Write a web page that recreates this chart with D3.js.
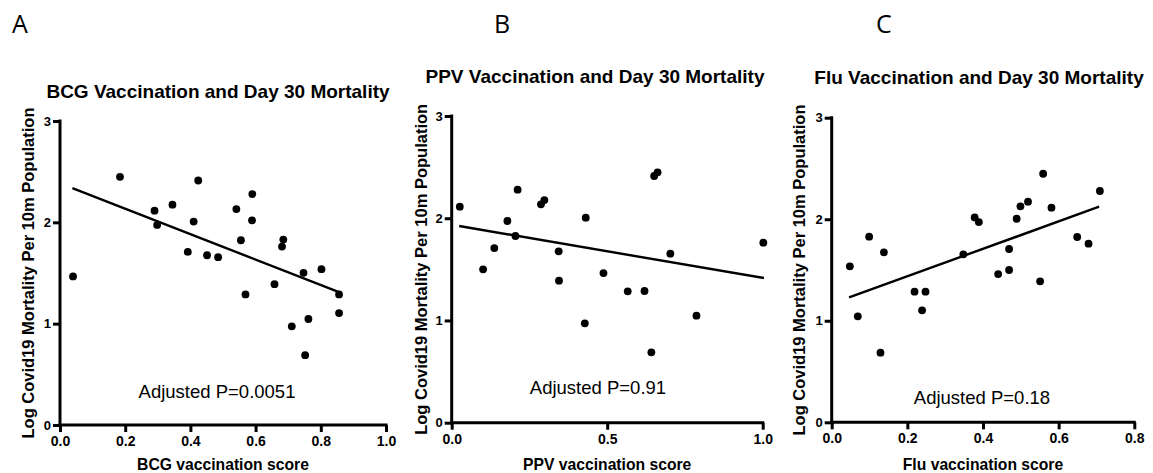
<!DOCTYPE html>
<html>
<head>
<meta charset="utf-8">
<script src="https://cdn.jsdelivr.net/npm/d3@7"></script>
<style>
  html, body { margin: 0; padding: 0; background: #fff; }
  svg { display: block; }
</style>
</head>
<body>
<svg id="chart" width="1153" height="473"></svg>
<script>
// ---- Data ----
const panelLetters = ["A", "B", "C"];
const panelTitles = [
  "BCG Vaccination and Day 30 Mortality",
  "PPV Vaccination and Day 30 Mortality",
  "Flu Vaccination and Day 30 Mortality"
];
const xAxisTitles = ["BCG vaccination score", "PPV vaccination score", "Flu vaccination score"];
const yAxisTitle = "Log Covid19 Mortality Per 10m Population";
const pValueTexts = ["Adjusted P=0.0051", "Adjusted P=0.91", "Adjusted P=0.18"];

const yTicks = [0, 1, 2, 3];
const xTicksA = [0.0, 0.2, 0.4, 0.6, 0.8, 1.0];
const xTicksB = [0.0, 0.5, 1.0];
const xTicksC = [0.0, 0.2, 0.4, 0.6, 0.8];

const bcgX = [0.040, 0.184, 0.290, 0.298, 0.345, 0.392, 0.410, 0.424, 0.451, 0.485, 0.541, 0.555, 0.569, 0.590, 0.589, 0.658, 0.685, 0.681, 0.711, 0.747, 0.752, 0.762, 0.802, 0.856, 0.856];
const bcgY = [1.466, 2.449, 2.115, 1.974, 2.174, 1.708, 2.007, 2.413, 1.675, 1.656, 2.131, 1.823, 1.289, 2.279, 2.020, 1.390, 1.830, 1.761, 0.974, 1.502, 0.689, 1.046, 1.538, 1.289, 1.105];
const bcgFitX = [0.038, 0.856];
const bcgFitY = [2.338, 1.311];

const ppvX = [0.026, 0.101, 0.137, 0.179, 0.205, 0.212, 0.287, 0.298, 0.344, 0.345, 0.428, 0.431, 0.488, 0.566, 0.620, 0.642, 0.651, 0.662, 0.703, 0.787, 1.002];
const ppvY = [2.113, 1.500, 1.708, 1.973, 1.826, 2.279, 2.136, 2.178, 1.676, 1.389, 0.972, 2.005, 1.464, 1.285, 1.288, 0.688, 2.413, 2.449, 1.653, 1.047, 1.761];
const ppvFitX = [0.024, 1.004];
const ppvFitY = [1.924, 1.415];

const fluX = [0.048, 0.069, 0.099, 0.129, 0.138, 0.219, 0.239, 0.248, 0.348, 0.378, 0.389, 0.440, 0.469, 0.469, 0.489, 0.499, 0.519, 0.551, 0.559, 0.581, 0.649, 0.679, 0.709];
const fluY = [1.536, 1.044, 1.828, 0.686, 1.674, 1.287, 1.103, 1.287, 1.654, 2.018, 1.972, 1.460, 1.707, 1.500, 2.005, 2.127, 2.173, 1.388, 2.448, 2.114, 1.825, 1.759, 2.278];
const fluFitX = [0.046, 0.707];
const fluFitY = [1.231, 2.123];

// ---- Layout ----
const panels = [
  { xs: bcgX, ys: bcgY, fx: bcgFitX, fy: bcgFitY, xTicks: xTicksA, xDomain: [0, 1.0], fmt: d3.format(".1f"),
    px: [60, 386], py: [425, 121], letterX: 12, titleX: 218, titleY: 98, pX: 217, pY: 398, xLabY: 470, yLabX: 28 },
  { xs: ppvX, ys: ppvY, fx: ppvFitX, fy: ppvFitY, xTicks: xTicksB, xDomain: [0, 1.0], fmt: d3.format(".1f"),
    px: [451.7, 762.7], py: [422.7, 116], letterX: 494, titleX: 595, titleY: 83, pX: 598, pY: 394, xLabY: 470, yLabX: 421 },
  { xs: fluX, ys: fluY, fx: fluFitX, fy: fluFitY, xTicks: xTicksC, xDomain: [0, 0.8], fmt: d3.format(".1f"),
    px: [831.7, 1134.3], py: [422.3, 117.7], letterX: 876, titleX: 979, titleY: 84, pX: 982, pY: 404, xLabY: 470, yLabX: 799 }
];

const svg = d3.select("#chart");
const FONT = "'Liberation Sans', Arial, sans-serif";

panels.forEach((p, i) => {
  const x = d3.scaleLinear().domain(p.xDomain).range(p.px);
  const y = d3.scaleLinear().domain([0, 3]).range(p.py);
  const g = svg.append("g");

  // panel letter
  svg.append("text").attr("x", p.letterX).attr("y", 33)
    .attr("font-family", "'Open Sans', 'Noto Sans', sans-serif").attr("font-size", 25)
    .attr("fill", "#000").text(panelLetters[i]);

  // title
  g.append("text").attr("x", p.titleX).attr("y", p.titleY).attr("text-anchor", "middle")
    .attr("font-family", FONT).attr("font-weight", "bold").attr("font-size", 19)
    .text(panelTitles[i]);

  // x axis
  const xAxis = d3.axisBottom(x).tickValues(p.xTicks).tickFormat(p.fmt).tickSize(7).tickSizeOuter(0).tickPadding(4);
  const gx = g.append("g").attr("transform", `translate(0,${p.py[0]})`).call(xAxis);
  // y axis
  const yAxis = d3.axisLeft(y).tickValues(yTicks).tickFormat(d3.format("d")).tickSize(7).tickSizeOuter(0).tickPadding(2);
  const gy = g.append("g").attr("transform", `translate(${p.px[0]},0)`).call(yAxis);

  [gx, gy].forEach(a => {
    a.select(".domain").attr("stroke", "#000").attr("stroke-width", 3);
    a.selectAll(".tick line").attr("stroke", "#000").attr("stroke-width", 3);
    a.selectAll(".tick text").attr("font-family", FONT).attr("font-weight", "bold").attr("fill", "#000");
  });
  gx.selectAll(".tick text").attr("font-size", 14);
  gy.selectAll(".tick text").attr("font-size", 13);
  // extend domain to cover tick caps
  gx.select(".domain").attr("d", `M${p.px[0] - 1.5},0H${p.px[1] + 1.5}`);
  gy.select(".domain").attr("d", `M0,${p.py[0] + 1.5}V${p.py[1] - 1.5}`);

  // axis titles
  g.append("text").attr("x", (p.px[0] + p.px[1]) / 2).attr("y", p.xLabY).attr("text-anchor", "middle")
    .attr("font-family", FONT).attr("font-weight", "bold").attr("font-size", 15.7)
    .text(xAxisTitles[i]);
  g.append("text")
    .attr("transform", `translate(${p.yLabX},${(p.py[0] + p.py[1]) / 2}) rotate(-90)`)
    .attr("text-anchor", "middle").attr("dy", "0.35em")
    .attr("font-family", FONT).attr("font-weight", "bold").attr("font-size", 16.5)
    .text(yAxisTitle);

  // fit line
  const fitPts = p.fx.map((v, k) => [v, p.fy[k]]);
  g.append("path").datum(fitPts)
    .attr("d", d3.line().x(d => x(d[0])).y(d => y(d[1])))
    .attr("stroke", "#000").attr("stroke-width", 2.4).attr("fill", "none");

  // points
  const pts = p.xs.map((v, k) => [v, p.ys[k]]);
  g.selectAll("circle.pt").data(pts).enter().append("circle")
    .attr("class", "pt")
    .attr("cx", d => x(d[0])).attr("cy", d => y(d[1])).attr("r", 3.9).attr("fill", "#000");

  // p value
  g.append("text").attr("x", p.pX).attr("y", p.pY).attr("text-anchor", "middle")
    .attr("font-family", FONT).attr("font-size", 18.5).attr("fill", "#000")
    .text(pValueTexts[i]);
});
</script>
</body>
</html>
